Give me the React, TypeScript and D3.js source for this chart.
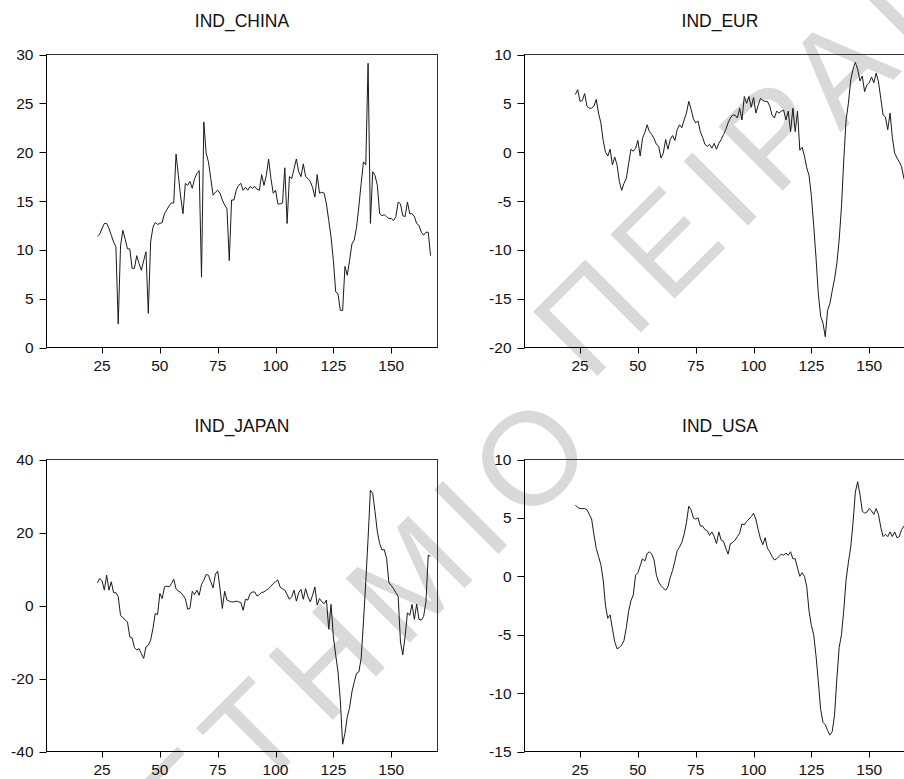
import React from 'react';
import * as d3 from 'd3';

// ---------- data ----------
const START_OBS = 23; // first observation number of every series
const X_DOMAIN: [number, number] = [1, 170];
const X_TICKS = [25, 50, 75, 100, 125, 150];

const TITLES = ['IND_CHINA', 'IND_EUR', 'IND_JAPAN', 'IND_USA'];

const indChina = [
  11.4, 11.6, 12.2, 12.7, 12.7, 12.2, 11.5, 10.8, 10.3, 2.4,
  10.4, 12.0, 11.1, 10.1, 10.1, 8.1, 8.1, 9.4, 8.6, 7.9,
  8.9, 9.8, 3.5, 10.8, 12.3, 12.8, 12.6, 12.7, 12.8, 13.7,
  14.1, 14.5, 14.8, 14.8, 19.8, 17.6, 15.4, 13.7, 16.8, 16.6,
  17.0, 16.3, 17.3, 17.8, 18.1, 7.2, 23.1, 19.9, 19.0, 17.3,
  15.6, 15.9, 16.1, 15.8, 15.1, 14.6, 14.2, 8.9, 15.1, 15.1,
  16.1, 16.6, 16.8, 16.1, 16.4, 16.1, 16.5, 16.3, 16.5, 16.2,
  16.1, 17.7, 16.6, 17.6, 19.3, 17.3, 15.8, 16.1, 14.7, 14.7,
  14.8, 18.4, 12.7, 17.5, 17.3, 18.3, 19.3, 18.0, 17.5, 18.8,
  17.5, 17.3, 17.0, 16.4, 15.4, 17.7, 15.8, 15.9, 15.8, 14.7,
  13.0, 11.3, 8.9, 5.7, 5.5, 3.8, 3.8, 8.3, 7.4, 8.9,
  10.6, 11.0, 12.3, 14.4, 16.8, 19.0, 18.7, 29.1, 12.7, 18.0,
  17.6, 16.6, 13.7, 13.5, 13.6, 13.4, 13.2, 13.2, 13.0, 13.4,
  14.9, 14.7, 13.5, 13.4, 14.9, 13.7, 13.7, 13.4, 12.7, 12.5,
  11.8, 11.5, 11.8, 11.8, 9.4,
];

const indEur = [
  5.9, 6.4, 5.2, 5.3, 6.0, 4.7, 4.5, 4.5, 4.7, 5.4,
  4.0, 3.0, 1.2, 0.0, -0.4, 0.3, -1.3, -0.5, -1.3, -3.0,
  -3.9, -3.2, -2.7, -1.2, 0.3, 0.1, 0.4, 1.2, -0.4, 1.4,
  2.0, 2.8, 2.1, 1.8, 1.4, 0.8, 0.6, -0.6, -0.1, 1.3,
  0.3, 1.3, 1.7, 1.2, 2.3, 2.8, 2.5, 3.3, 4.0, 5.2,
  4.4, 3.4, 3.0, 3.2, 2.1, 1.5, 0.8, 0.6, 0.8, 0.4,
  0.9, 0.3, 0.9, 1.3, 1.8, 2.3, 3.0, 3.5, 3.8, 3.8,
  3.5, 4.5, 3.3, 5.7, 5.0, 5.7, 4.6, 5.6, 4.0, 4.8,
  5.5, 5.3, 5.2, 5.2, 4.7, 3.8, 3.5, 4.2, 4.0, 4.2,
  4.3, 3.3, 4.2, 2.1, 4.5, 2.1, 4.2, 0.2, 0.5, -0.4,
  -1.6, -2.4, -4.5, -7.5, -10.8, -14.5, -16.8, -17.5, -18.9, -16.2,
  -15.5, -14.2, -13.0, -11.4, -9.0, -5.6, -0.8, 3.3, 5.0, 7.4,
  8.5, 9.2, 8.5, 7.3, 7.8, 6.2, 6.9, 7.1, 7.7, 7.1,
  8.1, 7.2, 5.5, 3.8, 3.6, 2.3, 4.0, 1.5, -0.1, -0.6,
  -1.0, -1.5, -2.7, -3.2,
];

const indJapan = [
  6.2, 7.4, 6.8, 4.2, 8.3, 4.2, 6.5, 3.5, 3.5, 2.4,
  -2.7, -3.3, -4.0, -4.5, -8.6, -8.9, -11.5, -12.2, -11.8, -13.2,
  -14.5, -11.3, -10.9, -9.5, -6.3, -2.2, -2.5, 3.3, 1.9, 5.1,
  5.3, 5.1, 6.0, 7.2, 4.6, 3.9, 3.6, 2.8, 1.9, -1.0,
  -0.8, 3.9, 3.0, 4.2, 2.8, 5.8, 6.9, 8.5, 8.3, 6.5,
  4.8, 8.6, 9.4, 4.6, -0.8, 3.9, 1.5, 1.2, 1.0, 1.0,
  1.2, 1.0, 0.8, -1.3, 1.7, 1.5, 3.3, 3.7, 3.7, 2.6,
  3.0, 3.6, 3.7, 4.2, 4.6, 5.3, 6.0, 6.5, 7.0, 5.0,
  4.6, 4.2, 3.0, 1.7, 2.4, 4.2, 1.2, 3.5, 4.4, 1.7,
  4.6, 2.4, 1.0, 2.8, 5.1, 0.1, 1.9, 1.0, 0.5, 1.5,
  -6.5, 0.3, -8.6, -13.6, -18.2, -26.0, -38.0, -35.0, -30.5, -28.0,
  -23.7, -21.0, -18.6, -18.2, -14.5, -4.5, 6.5, 18.4, 31.6, 30.7,
  25.7, 20.2, 17.0, 15.2, 15.3, 12.9, 6.2, 5.5, 4.6, 3.5,
  2.5, -10.0, -13.5, -8.5, -2.0, -2.7, 0.3, -3.8, 0.4, -3.8,
  -4.0, -3.0, 1.0, 13.8, 13.5,
];

const indUsa = [
  6.1, 5.9, 5.8, 5.8, 5.8, 5.7, 5.3, 4.9, 3.6, 2.4,
  1.7, 1.0, -0.3, -2.5, -3.6, -3.3, -4.5, -5.6, -6.2, -6.1,
  -5.9, -5.5, -4.4, -3.0, -2.1, -1.6, 0.1, 0.3, 0.9, 1.5,
  1.3, 1.95, 2.1, 1.9, 1.4, 0.1, -0.5, -0.8, -1.0, -1.2,
  -0.9, -0.1, 0.5, 1.3, 2.2, 2.5, 2.9, 3.6, 4.6, 6.0,
  5.7, 5.0, 4.9, 5.0, 4.3, 4.3, 4.0, 3.9, 3.5, 3.8,
  3.4, 2.8, 3.8, 3.1, 3.0, 2.4, 1.9, 2.8, 2.9, 3.1,
  3.4, 3.7, 4.5, 4.4, 4.7, 4.9, 5.1, 5.4, 4.9, 4.0,
  3.2, 2.7, 3.3, 2.4, 2.1, 1.7, 1.4, 1.5, 1.7, 1.9,
  1.8, 2.0, 1.8, 2.1, 1.5, 1.5, 0.7, 0.0, 0.3, 0.0,
  -0.9, -3.0, -4.2, -5.0, -6.8, -9.0, -11.4, -12.5, -12.7, -13.2,
  -13.6, -13.3, -11.9, -8.8, -6.1, -5.0, -2.9, -0.3, 1.2, 2.5,
  4.6, 7.2, 8.1, 7.0, 5.6, 5.4, 5.5, 5.8, 5.6, 5.3,
  5.8, 5.3, 4.2, 3.4, 3.6, 3.4, 3.8, 3.4, 3.8, 3.3,
  3.4, 4.0, 4.3, 4.1,
];

const CHINA_TICKS = [0, 5, 10, 15, 20, 25, 30];
const EUR_TICKS = [-20, -15, -10, -5, 0, 5, 10];
const JAPAN_TICKS = [-40, -20, 0, 20, 40];
const USA_TICKS = [-15, -10, -5, 0, 5, 10];

const WATERMARK_LEFT = 'ΠΑΝΕΠΙΣΤΗΜΙΟ';
const WATERMARK_RIGHT = 'ΠΕΙΡΑΙΩΣ';

// ---------- rendering ----------
const FONT = '"Liberation Sans", Arial, sans-serif';

type PanelProps = {
  title: string;
  values: number[];
  yTicks: number[];
  left: number;
  top: number;
  width: number;
  height: number;
};

function Panel({ title, values, yTicks, left, top, width, height }: PanelProps) {
  const x = d3.scaleLinear().domain(X_DOMAIN).range([left, left + width]);
  const yDomain = d3.extent(yTicks) as [number, number];
  const y = d3.scaleLinear().domain(yDomain).range([top + height, top]);
  const line = d3
    .line<number>()
    .x((_, i) => x(START_OBS + i))
    .y((d) => y(d));
  const bottom = top + height;
  return (
    <g>
      <text
        x={left + width / 2}
        y={top - 28}
        textAnchor="middle"
        fontFamily={FONT}
        fontSize={17.5}
        fill="#111"
      >
        {title}
      </text>
      <path d={line(values) || ''} fill="none" stroke="#1a1a1a" strokeWidth={1} />
      <rect x={left} y={top} width={width} height={height} fill="none" stroke="#333" strokeWidth={1} />
      <line x1={left} x2={left} y1={top} y2={bottom} stroke="#000" />
      <line x1={left} x2={left + width} y1={bottom} y2={bottom} stroke="#000" />
      {yTicks.map((t) => (
        <g key={'y' + t}>
          <line x1={left - 7} x2={left} y1={Math.round(y(t)) + 0.5} y2={Math.round(y(t)) + 0.5} stroke="#000" />
          <text
            x={left - 13}
            y={y(t)}
            dy="0.36em"
            textAnchor="end"
            fontFamily={FONT}
            fontSize={15.5}
            fill="#111"
          >
            {t}
          </text>
        </g>
      ))}
      {X_TICKS.map((t) => (
        <g key={'x' + t}>
          <line x1={Math.round(x(t)) + 0.5} x2={Math.round(x(t)) + 0.5} y1={bottom} y2={bottom + 6} stroke="#000" />
          <text
            x={x(t)}
            y={bottom + 23}
            textAnchor="middle"
            fontFamily={FONT}
            fontSize={15.5}
            fill="#111"
          >
            {t}
          </text>
        </g>
      ))}
    </g>
  );
}

export default function App() {
  const W = 904;
  const H = 779;
  const colL = 46.5;
  const colR = 524.5;
  const rowT = 54.5;
  const rowB = 459.5;
  const pw = 391;
  const ph = 293;
  const ph2 = 292;
  return (
    <svg
      width={W}
      height={H}
      style={{ position: 'absolute', left: 0, top: 0, background: '#fff' }}
    >
      <rect x={0} y={0} width={W} height={H} fill="#fff" />
      <g
        transform="translate(529,457) rotate(-45)"
        fontFamily={FONT}
        fontSize={132}
        letterSpacing={14}
        fill="#d9d9d9"
      >
        <text x={65} y={47} textAnchor="end">{WATERMARK_LEFT}</text>
        <text x={95} y={-9} textAnchor="start">{WATERMARK_RIGHT}</text>
      </g>
      <Panel title={TITLES[0]} values={indChina} yTicks={CHINA_TICKS} left={colL} top={rowT} width={pw} height={ph} />
      <Panel title={TITLES[1]} values={indEur} yTicks={EUR_TICKS} left={colR} top={rowT} width={pw} height={ph} />
      <Panel title={TITLES[2]} values={indJapan} yTicks={JAPAN_TICKS} left={colL} top={rowB} width={pw} height={ph2} />
      <Panel title={TITLES[3]} values={indUsa} yTicks={USA_TICKS} left={colR} top={rowB} width={pw} height={ph2} />
    </svg>
  );
}
